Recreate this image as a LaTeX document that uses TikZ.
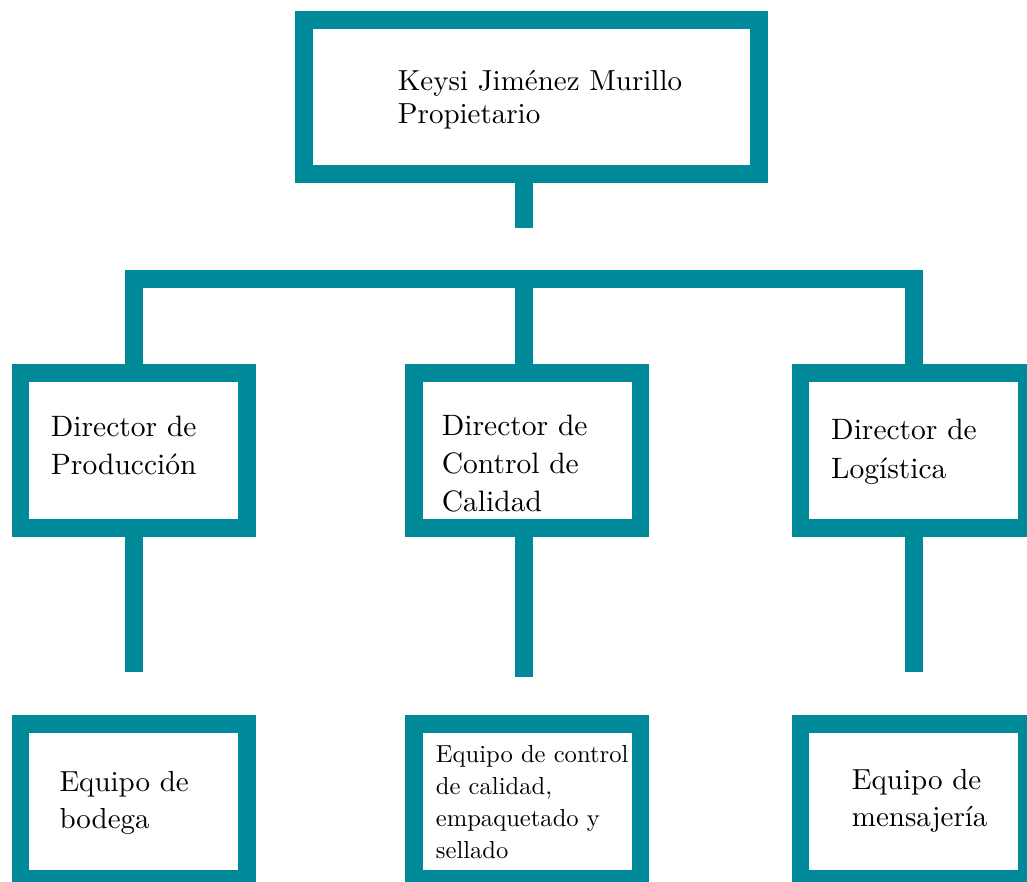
\documentclass[tikz,border=0pt]{standalone}
\usepackage{fontspec}
\setmainfont{lmroman10-regular}[Extension=.otf]
\definecolor{teal}{RGB}{0,138,153}
\begin{document}
\begin{tikzpicture}[x=1pt,y=-1pt,
  box/.style={draw=teal,line width=17.7pt,rectangle,inner sep=0pt,minimum width=226.7pt,minimum height=154.6pt},
  conn/.style={draw=teal,line width=17.7pt,line join=miter,line cap=butt},
  lbl/.style={anchor=base west,inner sep=0pt,align=left,text=black},
]
\useasboundingbox[fill=white] (0,0) rectangle (1027,881);
% boxes
\node[box,minimum width=454.6pt,minimum height=154.3pt] (top) at (531.5,97.05) {};
\node[box] (pL) at (133.85,450.5) {};
\node[box] (pM) at (527.15,450.5) {};
\node[box] (pR) at (913.9,450.5) {};
\node[box] (bL) at (133.85,801.5) {};
\node[box] (bM) at (527.15,801.5) {};
\node[box] (bR) at (913.9,801.5) {};
% connector coordinates
\coordinate (s0) at (524,227.7);
\coordinate (barL) at (133.85,278.85);
\coordinate (barR) at (913.9,278.85);
\coordinate (barM) at (524,278.85);
\coordinate (sL) at (133.85,671.7);
\coordinate (sM) at (524,676.7);
\coordinate (sR) at (913.9,671.7);
% connectors
\draw[conn] (top.south -| s0) -- (s0);
\draw[conn] (pL.north) -- (barL) -- (barR) -- (pR.north);
\draw[conn] (barM) -- (pM.north -| barM);
\draw[conn] (pL.south) -- (sL);
\draw[conn] (pM.south -| sM) -- (sM);
\draw[conn] (pR.south) -- (sR);
% texts (anchored at the baseline of the last line)
\node[lbl,font=\fontsize{29}{32.7}\selectfont] (ttop) at (397.7,123.3) {Keysi Jiménez Murillo\\Propietario};
\node[lbl,font=\fontsize{29.5}{37.6}\selectfont] (tpL) at (50.7,474.3) {Director de\\Producción};
\node[lbl,font=\fontsize{29.5}{38.3}\selectfont] (tpM) at (441.7,511.7) {Director de\\Control de\\Calidad};
\node[lbl,font=\fontsize{29.5}{39}\selectfont] (tpR) at (831,478.3) {Director de\\Logística};
\node[lbl,font=\fontsize{29}{36.6}\selectfont] (tbL) at (59.3,828.3) {Equipo de\\bodega};
\node[lbl,font=\fontsize{24.6}{32}\selectfont] (tbM) at (435.7,858.3) {Equipo de control\\de calidad,\\empaquetado y\\sellado};
\node[lbl,font=\fontsize{29}{37.7}\selectfont] (tbR) at (851.7,826.7) {Equipo de\\mensajería};
\end{tikzpicture}
\end{document}
